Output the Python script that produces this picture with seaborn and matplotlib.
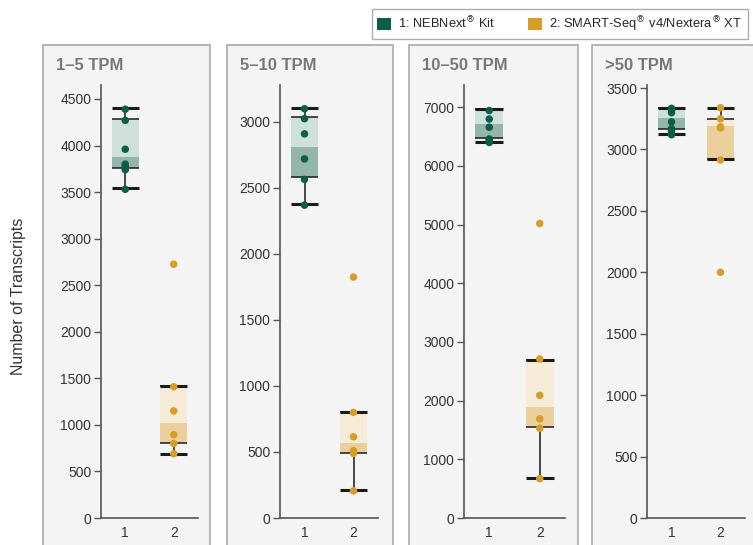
import pandas as pd
import matplotlib.pyplot as plt
import seaborn as sns
from matplotlib.patches import Patch, Rectangle

# Panel titles and y-axis settings
panels = ["1–5 TPM", "5–10 TPM", "10–50 TPM", ">50 TPM"]
y_tops = [4650, 3280, 7380, 3525]
y_steps = [500, 500, 1000, 500]
y_tick_max = [4500, 3000, 7000, 3500]
groups = ["1", "2"]

# Individual sample values (group 1 = NEBNext, group 2 = SMART-Seq)
g1_values = [
    [4390, 4270, 3960, 3800, 3780, 3740, 3530],
    [3100, 3025, 2910, 2720, 2565, 2370],
    [6945, 6800, 6660, 6460, 6440, 6400],
    [3335, 3320, 3300, 3225, 3170, 3150, 3120],
]
g2_values = [
    [2725, 1410, 1150, 895, 800, 690],
    [1825, 800, 615, 510, 490, 205],
    [5020, 2710, 2090, 1690, 1530, 670],
    [3340, 3250, 3185, 3175, 2915, 2000],
]

# Box summaries: (whisker low, Q1, median, Q3, whisker high)
g1_stats = [
    (3540, 3755, 3880, 4285, 4400),
    (2375, 2580, 2813, 3038, 3108),
    (6414, 6477, 6720, 6965, 6965),
    (3124, 3170, 3257, 3335, 3335),
]
g2_stats = [
    (690, 805, 1020, 1418, 1418),
    (210, 489, 567, 802, 802),
    (687, 1551, 1897, 2698, 2698),
    (2923, 2923, 3189, 3246, 3335),
]

point_colors = ["#0b5e47", "#d69e26"]
dark_box = ["#93b5aa", "#ebcf9c"]
light_box = ["#cfe0da", "#f6ebd7"]

sns.set_style("white")
plt.rcParams["font.family"] = ["Liberation Sans", "DejaVu Sans"]

W, H = 753, 545
fig = plt.figure(figsize=(W / 100, H / 100), dpi=100)

# panel frames (x0, x1) in pixels; they run off the bottom / right edge
frames = [(43, 210), (227, 393), (409, 578), (592, 800)]
axes_x = [(101, 198), (280, 378), (464, 565), (647, 745)]
ax_top, ax_bot, frame_top = 85, 518, 45

for i, name in enumerate(panels):
    fx0, fx1 = frames[i]
    fig.patches.append(Rectangle((fx0 / W, 1 - 560 / H), (fx1 - fx0) / W, (560 - frame_top) / H,
                                 transform=fig.transFigure, facecolor="#f4f4f4",
                                 edgecolor="#aaaaaa", lw=1.2, zorder=-1))
    fig.text((fx0 + 13) / W, 1 - 66 / H, name, fontsize=12, fontweight="bold",
             color="#777777", va="center", ha="left")

    x0, x1 = axes_x[i]
    ax = fig.add_axes([x0 / W, 1 - ax_bot / H, (x1 - x0) / W, (ax_bot - ax_top) / H])
    ax.set_facecolor("none")
    ax.set_zorder(2)

    df = pd.DataFrame({
        "group": ["1"] * len(g1_values[i]) + ["2"] * len(g2_values[i]),
        "value": g1_values[i] + g2_values[i],
    })

    for j, st in enumerate([g1_stats[i], g2_stats[i]]):
        lo, q1, med, q3, hi = st
        w = 0.56
        ax.bar(j, med - q1, bottom=q1, width=w, color=dark_box[j], zorder=1, lw=0)
        ax.bar(j, q3 - med, bottom=med, width=w, color=light_box[j], zorder=1, lw=0)
        ax.vlines(j, lo, q1, color="#1a1a1a", lw=1.1, zorder=2)
        ax.vlines(j, q3, hi, color="#1a1a1a", lw=1.1, zorder=2)
        ax.hlines([q1, q3], j - w / 2, j + w / 2, color="#1a1a1a", lw=1.1, zorder=2)
        ax.hlines([lo, hi], j - w / 2, j + w / 2, color="#1a1a1a", lw=2.2, zorder=2)

    sns.stripplot(data=df, x="group", y="value", hue="group", order=groups,
                  hue_order=groups, palette=point_colors, jitter=False, size=5.4,
                  linewidth=0, legend=False, ax=ax, zorder=3)

    ax.set_xlim(-0.5, 1.5)
    ax.set_ylim(0, y_tops[i])
    ax.set_yticks(range(0, y_tick_max[i] + 1, y_steps[i]))
    ax.set_xlabel("")
    ax.set_ylabel("")
    for s in ["top", "right"]:
        ax.spines[s].set_visible(False)
    for s in ["left", "bottom"]:
        ax.spines[s].set_color("#555555")
        ax.spines[s].set_linewidth(1.2)
    ax.tick_params(axis="y", length=5, width=1, color="#555555", labelsize=10,
                   labelcolor="#333333", pad=2, left=True)
    ax.tick_params(axis="x", length=0, labelsize=10, labelcolor="#333333", pad=6)

fig.text(19 / W, 1 - 296 / H, "Number of Transcripts", rotation=90, fontsize=11.5,
         color="#333333", va="center", ha="center")

handles = [Patch(facecolor=point_colors[0], edgecolor="none"),
           Patch(facecolor=point_colors[1], edgecolor="none")]
labels = [r"1: NEBNext$^{\circledR}$ Kit", r"2: SMART-Seq$^{\circledR}$ v4/Nextera$^{\circledR}$ XT"]
leg = fig.legend(handles, labels, loc="upper left", bbox_to_anchor=(372 / W, 1 - 9 / H),
                 ncol=2, fontsize=9.3, frameon=True, fancybox=False, handlelength=1.05,
                 handleheight=1.05, handletextpad=0.6, columnspacing=2.5,
                 borderpad=0.4, borderaxespad=0)
leg.get_frame().set_edgecolor("#999999")
leg.get_frame().set_linewidth(1.0)

fig.savefig("out.png", dpi=100)
